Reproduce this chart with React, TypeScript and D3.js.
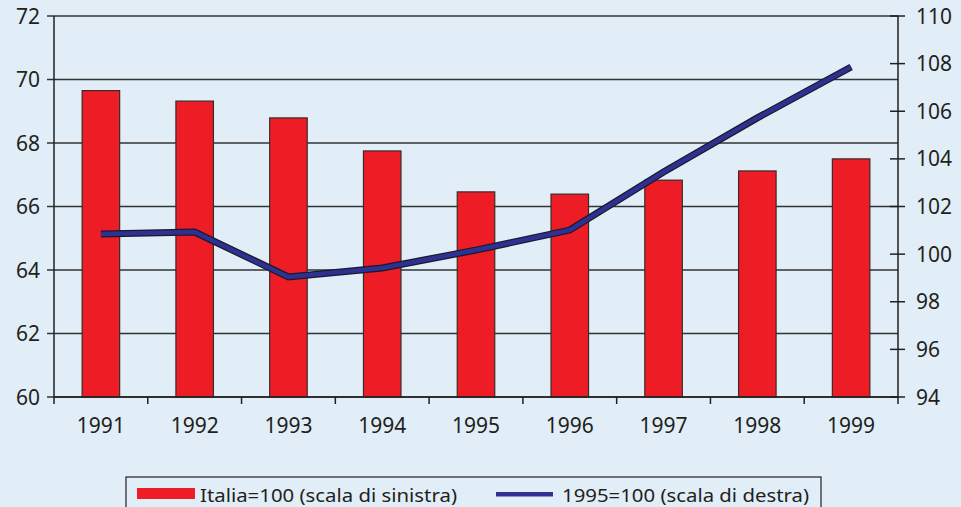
import React from 'react';
import * as d3 from 'd3';

// anni e valori
const years = ['1991', '1992', '1993', '1994', '1995', '1996', '1997', '1998', '1999'];
const italiaValues = [69.65, 69.32, 68.79, 67.75, 66.46, 66.39, 66.83, 67.12, 67.5];
const index1995Values = [100.85, 100.93, 99.04, 99.42, 100.17, 101.01, 103.45, 105.72, 107.86];
const leftTicks = [60, 62, 64, 66, 68, 70, 72];
const rightTicks = [94, 96, 98, 100, 102, 104, 106, 108, 110];
const legendLabels = ['Italia=100 (scala di sinistra)', '1995=100 (scala di destra)'];

const width = 961;
const height = 507;
const left = 54;
const right = 898;
const top = 16;
const bottom = 397;
const font = "'Noto Sans', 'DejaVu Sans', sans-serif";

const App = () => {
  const x = d3.scaleBand().domain(years).range([left, right]).paddingInner(0.6).paddingOuter(0.3);
  const xBand = d3.scaleBand().domain(years).range([left, right]);
  const yLeft = d3.scaleLinear().domain([60, 72]).range([bottom, top]);
  const yRight = d3.scaleLinear().domain([94, 110]).range([bottom, top]);

  const line = d3
    .line<number>()
    .x((d, i) => (xBand(years[i]) as number) + xBand.bandwidth() / 2)
    .y((d) => yRight(d));
  const path = line(index1995Values) || '';

  return (
    <svg
      width={width}
      height={height}
      style={{ position: 'absolute', left: 0, top: 0, background: '#e1eef7' }}
      fontFamily={font}
    >
      <rect x={0} y={0} width={width} height={height} fill="#e1eef7" />

      {/* griglia orizzontale */}
      {leftTicks.map((t) => (
        <g key={'l' + t}>
          <line x1={left - 7} x2={right} y1={yLeft(t)} y2={yLeft(t)} stroke="#333" strokeWidth={1.6} />
          <text x={40} y={yLeft(t) + 7.5} textAnchor="end" fontSize={21} fill="#231f20">
            {t}
          </text>
        </g>
      ))}

      {rightTicks.map((t) => (
        <g key={'r' + t}>
          <line x1={right - 8} x2={right + 7} y1={yRight(t)} y2={yRight(t)} stroke="#231f20" strokeWidth={1.5} />
          <text x={916} y={yRight(t) + 7.5} textAnchor="start" fontSize={21} fill="#231f20">
            {t}
          </text>
        </g>
      ))}

      {/* barre */}
      {years.map((yr, i) => (
        <rect
          key={yr}
          x={x(yr)}
          y={yLeft(italiaValues[i])}
          width={x.bandwidth()}
          height={bottom - yLeft(italiaValues[i])}
          fill="#ee1c25"
          stroke="#3a2a2a"
          strokeWidth={1.2}
        />
      ))}

      {/* assi */}
      <line x1={left} x2={left} y1={top} y2={bottom + 7} stroke="#231f20" strokeWidth={1.5} />
      <line x1={right} x2={right} y1={top} y2={bottom + 7} stroke="#231f20" strokeWidth={1.5} />
      <line x1={left} x2={right} y1={bottom} y2={bottom} stroke="#231f20" strokeWidth={1.5} />
      {years.slice(1).map((yr) => (
        <line
          key={'t' + yr}
          x1={xBand(yr)}
          x2={xBand(yr)}
          y1={bottom}
          y2={bottom + 7}
          stroke="#231f20"
          strokeWidth={1.5}
        />
      ))}
      {years.map((yr) => (
        <text
          key={'x' + yr}
          x={(xBand(yr) as number) + xBand.bandwidth() / 2}
          y={433}
          textAnchor="middle"
          fontSize={21}
          fill="#231f20"
        >
          {yr}
        </text>
      ))}

      {/* linea indice */}
      <path d={path} fill="none" stroke="#1a1a2a" strokeWidth={7} strokeLinejoin="miter" />
      <path d={path} fill="none" stroke="#2e3192" strokeWidth={4.5} strokeLinejoin="miter" />

      {/* legenda */}
      <rect x={126} y={477} width={695} height={40} fill="none" stroke="#231f20" strokeWidth={1.2} />
      <rect x={137} y={488} width={58} height={11} fill="#ee1c25" />
      <text x={200} y={502} fontSize={18.5} fill="#231f20" textLength={257} lengthAdjust="spacingAndGlyphs">
        {legendLabels[0]}
      </text>
      <rect x={496} y={492} width={57} height={4.5} fill="#2e3192" />
      <text x={562} y={502} fontSize={18.5} fill="#231f20" textLength={247} lengthAdjust="spacingAndGlyphs">
        {legendLabels[1]}
      </text>
    </svg>
  );
};

export default App;
